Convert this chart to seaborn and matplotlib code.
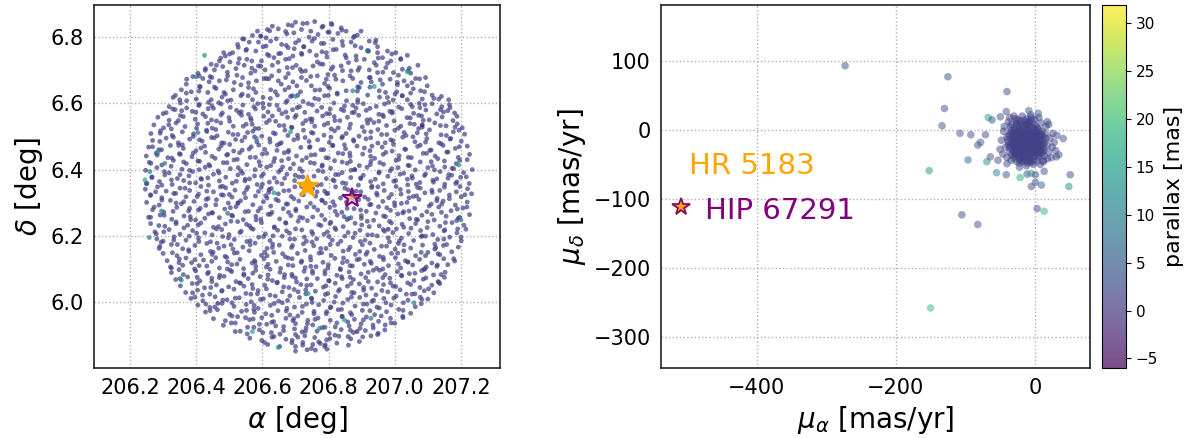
import matplotlib
matplotlib.use("Agg")
import matplotlib.pyplot as plt
import numpy as np
import pandas as pd
import seaborn as sns
from matplotlib.colors import Normalize
from matplotlib.cm import ScalarMappable

# ---------------- data ----------------
# Field stars: (RA offset, Dec offset) in milli-degrees from RA0 / DEC0
RA0 = 206.0
DEC0 = 5.8
field_top_west = [(700,1045),(722,1041),(678,1037),(630,1033),(615,1023),(648,1025),(670,1017),(695,1013),(585,1018),(570,1005),(595,1003),(540,995),(560,985),(525,978),(625,988),(642,995),(658,978),(678,968),(700,983),(725,971),(602,971),(580,958),(552,963),(510,953),(488,943),(502,925),(530,935),(615,948),(635,938),(655,951),(670,933),(692,943),(718,951),(470,928),(445,918),(428,905),(455,901),(480,911),(520,905),(545,915),(568,928),(588,913),(608,901),(630,915),(650,898),(675,908),(702,915),(730,898),(405,891),(390,881),(420,875),(442,881),(470,868),(495,883),(515,863),(540,878),(565,891),(582,868),(605,875),(628,883),(648,868),(670,878),(692,865),(718,878),(370,858),(355,841),(385,835),(410,851),(435,833),(460,845),(488,828),(512,841),(535,823),(558,848),(580,833),(602,818),(625,841),(645,825),(668,841),(690,823),(715,835),(330,818),(350,811),(400,813),(445,811),(495,808),(570,811),(675,808)]
field_top_east = [(758,1047),(783,1033),(808,1041),(838,1028),(746,1018),(768,1008),(798,1015),(828,1011),(853,1018),(878,1003),(898,1018),(923,988),(943,991),(750,988),(778,981),(813,993),(843,975),(868,985),(898,968),(918,958),(948,971),(978,958),(1003,953),(743,958),(763,945),(793,953),(823,963),(853,938),(883,943),(908,933),(938,923),(963,938),(988,928),(1018,935),(1038,945),(753,913),(783,918),(808,903),(838,913),(868,898),(893,908),(923,901),(948,893),(973,908),(996,893),(1023,903),(1048,891),(1070,915),(766,883),(793,873),(818,885),(843,868),(873,875),(898,863),(923,878),(963,858),(986,873),(1008,863),(1028,868),(1038,853),(1063,875),(1093,878),(1098,853),(748,853),(773,841),(798,851),(826,828),(853,838),(893,848),(918,825),(953,838),(978,818),(1006,835),(1023,823),(1048,831),(1078,838),(1113,825),(1133,813),(1163,811),(758,815),(788,823),(888,811),(1038,811),(1083,813)]
field_mid_west = [(318,790),(352,801),(371,786),(409,797),(447,793),(468,802),(503,788),(541,795),(586,799),(603,787),(644,794),(671,803),(712,790),
(309,772),(336,781),(388,776),(420,768),(436,784),(479,771),(522,779),(558,767),(579,783),(617,774),(659,769),(691,781),(728,773),
(284,758),(318,749),(352,763),(397,752),(428,760),(461,747),(499,757),(537,764),(566,750),(604,761),(640,746),(676,758),(702,764),(731,748),
(272,735),(301,726),(339,741),(366,730),(404,738),(448,725),(474,741),(512,731),(551,737),(589,724),(612,742),(651,733),(689,727),(722,739),
(263,709),(292,717),(327,703),(358,714),(392,708),(431,719),(463,702),(497,713),(526,706),(571,716),(598,701),(633,711),(668,719),(706,704),
(268,688),(309,695),(346,681),(380,692),(418,686),(446,697),(484,680),(519,691),(547,698),(583,684),(622,693),(657,681),(695,690),(729,697),
(256,668),(287,660),(322,673),(361,664),(399,657),(425,671),(468,662),(501,676),(539,659),(566,669),(607,661),(645,674),(679,658),(716,667),
(249,641),(279,650),(314,636),(352,646),(387,639),(428,652),(457,634),(492,644),(531,651),(563,637),(600,647),(637,634),(666,651),(703,641),(733,636),
(258,622),(296,614),(331,628),(370,618),(405,626),(441,611),(482,621),(514,629),(553,615),(590,624),(625,612),(658,627),(694,617),
(247,598),(281,606),(318,590),(357,601),(389,594),(427,607),(466,596),(503,603),(540,589),(578,600),(613,607),(649,593),(684,603),(720,595),
(266,576),(305,584),(343,573),(378,581),(416,571),(452,586),(489,577),(526,584),(561,572),(597,580),(636,575),(674,586),(710,578),
(251,558),(289,564),(327,555),(362,567),(398,560),(437,553),(470,566),(509,559),(547,566),(584,555),(621,562),(659,557),(697,567),(732,556)]
field_mid_east = [(751,795),(779,788),(816,801),(848,792),(883,786),(905,799),(944,791),(981,803),(1012,789),(1048,797),(1076,787),(1113,799),(1142,790),(1165,796),
(765,777),(803,769),(838,782),(871,772),(914,779),(952,767),(985,776),(1021,784),(1057,770),(1094,780),(1127,768),(1160,778),(1181,771),
(744,753),(782,762),(819,748),(857,758),(891,764),(926,751),(966,760),(998,747),(1037,757),(1072,764),(1104,750),(1143,759),(1176,748),(1188,761),
(758,731),(797,740),(829,726),(866,737),(902,729),(937,742),(975,733),(1011,725),(1046,739),(1083,728),(1121,741),(1155,732),(1189,738),(1204,726),
(748,712),(786,704),(818,717),(853,709),(892,701),(928,714),(960,706),(1000,719),(1034,703),(1068,711),(1105,720),(1140,705),(1177,714),(1211,707),
(767,690),(802,682),(840,696),(876,686),(913,693),(949,680),(988,690),(1024,698),(1061,684),(1097,694),(1133,681),(1167,692),(1201,686),
(742,667),(777,660),(813,673),(851,663),(886,671),(925,657),(962,668),(996,676),(1033,661),(1069,670),(1110,659),(1146,673),(1183,664),(1219,671),
(759,645),(792,636),(829,650),(865,640),(903,647),(939,634),(973,652),(1013,642),(1050,636),(1086,649),(1122,641),(1157,653),(1192,637),(1226,646),
(745,621),(781,614),(818,627),(856,619),(893,612),(928,625),(966,616),(1004,628),(1040,613),(1077,623),(1114,611),(1150,626),(1186,618),(1219,630),
(769,597),(806,604),(841,591),(879,600),(916,607),(953,593),(991,603),(1027,589),(1062,599),(1100,606),(1137,594),(1173,604),(1208,591),(1234,600),
(756,580),(793,573),(830,585),(867,576),(905,583),(941,571),(979,580),(1016,586),(1053,574),(1090,582),(1127,572),(1163,585),(1199,577),
(741,562),(778,555),(817,566),(852,558),(890,553),(927,564),(965,557),(1003,567),(1039,554),(1076,561),(1115,568),(1151,556),(1188,563),(1225,558)]
field_low_west = [(246,541),(283,548),(309,535),(351,544),(380,537),(414,549),(452,533),(489,545),(517,538),(556,547),(588,534),(627,543),(665,536),(698,548),(728,540),
(262,522),(296,515),(338,528),(369,518),(407,526),(436,513),(476,524),(508,517),(545,529),(579,520),(614,514),(648,527),(687,519),(719,525),
(250,501),(288,493),(322,507),(355,497),(393,504),(429,492),(461,509),(497,499),(534,506),(571,494),(603,503),(641,510),(676,496),(710,505),
(268,479),(302,472),(341,486),(377,475),(412,483),(448,470),(486,481),(520,488),(558,474),(594,484),(629,471),(663,482),(701,476),(734,487),
(256,456),(291,463),(326,450),(363,460),(398,448),(437,466),(470,455),(507,462),(542,449),(580,459),(617,465),(652,451),(686,461),(722,454),
(262,437),(305,429),(339,442),(374,432),(414,439),(452,426),(488,436),(525,443),(561,430),(597,440),(636,427),(671,438),(708,444),
(275,412),(318,419),(351,405),(389,416),(426,409),(461,421),(499,404),(536,414),(572,420),(609,406),(646,417),(682,408),(719,418),
(281,391),(300,384),(333,397),(369,387),(407,394),(443,382),(480,398),(515,389),(553,383),(589,396),(623,386),(660,399),(697,390),(733,384),
(290,368),(325,374),(359,361),(396,371),(432,377),(468,363),(505,373),(541,366),(578,378),(614,362),(651,372),(688,365),(724,376),
(300,347),(342,340),(378,353),(414,343),(451,351),(487,338),(524,349),(560,355),(597,341),(634,350),(669,337),(706,347),
(312,325),(349,330),(386,319),(422,327),(459,334),(495,321),(532,329),(569,318),(605,331),(642,323),(678,333),(717,320),
(322,306),(359,311),(395,300),(432,309),(470,303),(507,313),(543,301),(580,308),(617,314),(655,302),(692,310),(729,304)]
field_low_east = [(752,543),(788,535),(821,548),(859,539),(897,533),(930,546),(968,537),(1004,549),(1041,534),(1077,544),(1112,538),(1150,547),(1186,533),(1220,542),
(761,520),(797,528),(836,514),(871,524),(909,517),(945,529),(982,515),(1019,526),(1056,519),(1091,530),(1128,513),(1165,523),(1201,518),(1232,527),
(745,498),(781,506),(818,492),(854,502),(891,509),(928,495),(964,504),(1000,491),(1037,501),(1073,510),(1110,496),(1146,505),(1183,493),(1219,502),
(767,478),(804,486),(840,471),(877,482),(914,474),(951,488),(987,477),(1024,469),(1060,483),(1097,473),(1133,487),(1170,476),(1206,484),
(752,457),(789,449),(826,463),(862,453),(899,461),(936,447),(972,458),(1009,466),(1045,452),(1082,462),(1119,448),(1155,459),(1192,453),(1226,464),
(770,434),(807,441),(844,428),(880,438),(917,444),(953,430),(990,439),(1027,426),(1063,437),(1100,443),(1136,429),(1173,440),(1209,432),
(749,413),(786,405),(822,419),(859,410),(895,417),(932,403),(969,414),(1005,421),(1042,407),(1078,416),(1115,404),(1151,418),(1188,409),(1215,420),
(764,391),(801,398),(837,384),(874,395),(910,387),(947,400),(984,382),(1020,393),(1057,386),(1093,399),(1130,389),(1166,396),(1201,385),
(755,370),(792,362),(828,375),(865,366),(902,373),(938,359),(975,369),(1011,377),(1048,363),(1084,372),(1121,360),(1157,374),(1192,366),
(771,348),(808,341),(844,354),(881,344),(917,351),(954,338),(990,347),(1027,355),(1063,340),(1100,350),(1136,343),(1172,352),
(746,327),(783,320),(819,332),(856,323),(893,330),(929,317),(966,328),(1002,334),(1039,321),(1075,329),(1112,318),(1148,331),(1181,324),
(762,307),(799,313),(835,301),(872,309),(908,314),(945,302),(981,310),(1018,303),(1054,312),(1091,300),(1127,308),(1160,313)]
field_bottom_west = [(325,289),(361,283),(398,294),(434,286),(471,281),(507,292),(544,285),(580,296),(617,282),(653,290),(689,284),(726,293),
(338,268),(374,276),(411,264),(447,272),(484,278),(520,262),(557,271),(593,277),(630,265),(666,274),(703,261),(734,270),
(352,249),(388,256),(425,243),(461,252),(498,246),(534,257),(571,241),(607,251),(644,258),(680,244),(716,253),
(368,229),(404,236),(441,224),(477,233),(514,239),(550,226),(587,235),(623,221),(660,231),(696,238),(731,225),
(384,211),(420,204),(457,216),(493,207),(530,213),(566,201),(603,210),(639,218),(676,205),(712,214),
(405,191),(441,184),(478,196),(514,187),(551,193),(587,181),(624,190),(660,198),(697,185),(733,194),
(428,170),(464,177),(501,163),(537,172),(574,178),(610,165),(647,174),(683,161),(720,169),
(452,150),(488,144),(525,156),(561,147),(598,153),(634,141),(671,151),(707,158),(737,145),
(482,130),(518,137),(555,124),(591,133),(628,139),(664,126),(700,135),(732,122),
(518,111),(554,104),(591,116),(627,108),(664,114),(700,102),(730,112),
(562,91),(598,84),(635,96),(671,88),(707,94),(616,72),(652,66),(689,77),(722,70),(700,52),(735,56)]
field_bottom_east = [(752,287),(789,294),(825,281),(862,291),(898,285),(935,296),(971,283),(1008,292),(1044,286),(1081,295),(1117,282),(1152,290),
(766,271),(802,264),(839,277),(875,268),(912,274),(948,261),(985,272),(1021,279),(1058,265),(1094,273),(1131,262),(1150,275),
(747,252),(784,245),(820,257),(857,248),(893,255),(930,242),(966,253),(1003,247),(1039,258),(1076,244),(1112,251),(1136,256),
(760,233),(797,226),(833,238),(870,229),(906,236),(943,222),(979,231),(1016,237),(1052,224),(1089,234),(1118,228),
(748,212),(785,205),(821,217),(858,208),(894,214),(931,202),(967,211),(1004,218),(1040,206),(1077,215),(1100,209),
(770,192),(807,185),(843,197),(880,188),(916,194),(953,182),(989,191),(1026,198),(1062,186),(1080,195),
(756,172),(793,165),(829,177),(866,168),(902,175),(939,162),(975,171),(1012,178),(1048,166),
(768,152),(805,145),(841,157),(878,148),(914,155),(951,142),(987,151),(1024,157),
(752,131),(789,124),(825,137),(862,128),(898,134),(935,122),(971,131),(1000,136),
(765,112),(802,105),(838,117),(875,108),(911,114),(948,102),(970,116),
(758,93),(794,86),(831,97),(867,89),(903,95),(928,98),(752,72),(788,66),(825,76),(860,70),(760,55),(795,58)]
field_faint_south = [(700,66),(748,60),(790,71),(722,78),(770,80),
(606,78),(629,94),(690,85),(728,98),(775,75),(804,90),(859,96),(893,81),
(533,112),(574,124),(601,108),(653,103),(697,119),(720,110),(781,123),(819,100),(866,115),(895,121),(950,106),
(506,137),(572,149),(613,133),(640,128),(692,144),(736,135),(759,148),(820,125),(858,140),(905,146),(934,131),(989,137),
(442,174),(508,158),(549,153),(576,169),(628,160),(672,173),(695,150),(756,165),(794,171),(841,156),(870,162),(925,174),(959,158),(1025,153),
(429,194),(456,185),(508,198),(552,175),(575,190),(636,196),(674,181),(721,187),(750,199),(805,183),(839,178),(905,194),(946,185),(973,198),(1025,175),
(396,215),(419,221),(480,206),(518,212),(565,224),(594,208),(649,203),(683,219),(749,210),(790,223),(817,200),(869,215),(913,221),(936,206),(997,212),(1035,224),(1082,208),
(389,228),(444,244),(478,235),(544,248),(585,225),(612,240),(664,246),(708,231),(731,237),(792,249),(830,233),(877,228),(906,244),(961,235),(995,248),(1061,225),(1102,240),
(351,271),(403,256),(447,262),(470,274),(531,258),(569,253),(616,269),(645,260),(700,273),(734,250),(800,265),(841,271),(868,256),(920,262),(964,274),(987,258),(1048,253),(1086,269),(1133,260),
(348,298),(403,275),(437,290),(503,296),(544,281),(571,287),(623,299),(667,283),(690,278),(751,294),(789,285),(836,298),(865,275),(920,290),(954,296),(1020,281),(1061,287),(1088,299),(1140,283)]
field_faint_centre_south = [(325,303),(348,319),(409,310),(447,323),(494,300),(523,315),(578,321),(612,306),(678,312),(719,324),(746,308),(798,303),(842,319),(865,310),(926,323),(964,300),(1011,315),(1040,321),(1095,306),(1129,312),
(328,349),(369,333),(396,328),(448,344),(492,335),(515,348),(576,325),(614,340),(661,346),(690,331),(745,337),(779,349),(845,333),(886,328),(913,344),(965,335),(1009,348),(1032,325),(1093,340),(1131,346),(1178,331),
(288,362),(343,374),(377,358),(443,353),(484,369),(511,360),(563,373),(607,350),(630,365),(691,371),(729,356),(776,362),(805,374),(860,358),(894,353),(960,369),(1001,360),(1028,373),(1080,350),(1124,365),(1147,371),
(294,381),(332,387),(379,399),(408,383),(463,378),(497,394),(563,385),(604,398),(631,375),(683,390),(727,396),(750,381),(811,387),(849,399),(896,383),(925,378),(980,394),(1014,385),(1080,398),(1121,375),(1148,390),(1200,396),
(279,406),(302,412),(363,424),(401,408),(448,403),(477,419),(532,410),(566,423),(632,400),(673,415),(700,421),(752,406),(796,412),(819,424),(880,408),(918,403),(965,419),(994,410),(1049,423),(1083,400),(1149,415),(1190,421),
(287,431),(339,437),(383,449),(406,433),(467,428),(505,444),(552,435),(581,448),(636,425),(670,440),(736,446),(777,431),(804,437),(856,449),(900,433),(923,428),(984,444),(1022,435),(1069,448),(1098,425),(1153,440),(1187,446),
(262,456),(303,462),(330,474),(382,458),(426,453),(449,469),(510,460),(548,473),(595,450),(624,465),(679,471),(713,456),(779,462),(820,474),(847,458),(899,453),(943,469),(966,460),(1027,473),(1065,450),(1112,465),(1141,471),(1196,456),
(273,487),(339,499),(380,483),(407,478),(459,494),(503,485),(526,498),(587,475),(625,490),(672,496),(701,481),(756,487),(790,499),(856,483),(897,478),(924,494),(976,485),(1020,498),(1043,475),(1104,490),(1142,496),(1189,481),(1218,487),
(262,524),(296,508),(362,503),(403,519),(430,510),(482,523),(526,500),(549,515),(610,521),(648,506),(695,512),(724,524),(779,508),(813,503),(879,519),(920,510),(947,523),(999,500),(1043,515),(1066,521),(1127,506),(1165,512),(1212,524),
(277,533),(332,528),(366,544),(432,535),(473,548),(500,525),(552,540),(596,546),(619,531),(680,537),(718,549),(765,533),(794,528),(849,544),(883,535),(949,548),(990,525),(1017,540),(1069,546),(1113,531),(1136,537),(1197,549)]
field_faint_centre_north = [(249,558),(296,553),(325,569),(380,560),(414,573),(480,550),(521,565),(548,571),(600,556),(644,562),(667,574),(728,558),(766,553),(813,569),(842,560),(897,573),(931,550),(997,565),(1038,571),(1065,556),(1117,562),(1161,574),(1184,558),
(266,578),(304,594),(351,585),(380,598),(435,575),(469,590),(535,596),(576,581),(603,587),(655,599),(699,583),(722,578),(783,594),(821,585),(868,598),(897,575),(952,590),(986,596),(1052,581),(1093,587),(1120,599),(1172,583),(1216,578),
(263,619),(324,610),(362,623),(409,600),(438,615),(493,621),(527,606),(593,612),(634,624),(661,608),(713,603),(757,619),(780,610),(841,623),(879,600),(926,615),(955,621),(1010,606),(1044,612),(1110,624),(1151,608),(1178,603),
(282,644),(326,635),(349,648),(410,625),(448,640),(495,646),(524,631),(579,637),(613,649),(679,633),(720,628),(747,644),(799,635),(843,648),(866,625),(927,640),(965,646),(1012,631),(1041,637),(1096,649),(1130,633),(1196,628),
(268,669),(295,660),(347,673),(391,650),(414,665),(475,671),(513,656),(560,662),(589,674),(644,658),(678,653),(744,669),(785,660),(812,673),(864,650),(908,665),(931,671),(992,656),(1030,662),(1077,674),(1106,658),(1161,653),(1195,669),
(290,685),(331,698),(358,675),(410,690),(454,696),(477,681),(538,687),(576,699),(623,683),(652,678),(707,694),(741,685),(807,698),(848,675),(875,690),(927,696),(971,681),(994,687),(1055,699),(1093,683),(1140,678),(1169,694),
(291,710),(325,723),(391,700),(432,715),(459,721),(511,706),(555,712),(578,724),(639,708),(677,703),(724,719),(753,710),(808,723),(842,700),(908,715),(949,721),(976,706),(1028,712),(1072,724),(1095,708),(1156,703),(1194,719),
(317,735),(346,748),(401,725),(435,740),(501,746),(542,731),(569,737),(621,749),(665,733),(688,728),(749,744),(787,735),(834,748),(863,725),(918,740),(952,746),(1018,731),(1059,737),(1086,749),(1138,733),(1182,728),
(300,769),(361,760),(399,773),(446,750),(475,765),(530,771),(564,756),(630,762),(671,774),(698,758),(750,753),(794,769),(817,760),(878,773),(916,750),(963,765),(992,771),(1047,756),(1081,762),(1147,774),
(329,783),(356,778),(408,794),(452,785),(475,798),(536,775),(574,790),(621,796),(650,781),(705,787),(739,799),(805,783),(846,778),(873,794),(925,785),(969,798),(992,775),(1053,790),(1091,796),(1138,781),(1167,787)]
field_faint_north = [(337,824),(371,808),(437,803),(478,819),(505,810),(557,823),(601,800),(624,815),(685,821),(723,806),(770,812),(799,824),(854,808),(888,803),(954,819),(995,810),(1022,823),(1074,800),(1118,815),(1141,821),
(370,831),(408,837),(455,849),(484,833),(539,828),(573,844),(639,835),(680,848),(707,825),(759,840),(803,846),(826,831),(887,837),(925,849),(972,833),(1001,828),(1056,844),(1090,835),
(371,873),(412,850),(439,865),(491,871),(535,856),(558,862),(619,874),(657,858),(704,853),(733,869),(788,860),(822,873),(888,850),(929,865),(956,871),(1008,856),(1052,862),(1075,874),
(409,883),(447,878),(494,894),(523,885),(578,898),(612,875),(678,890),(719,896),(746,881),(798,887),(842,899),(865,883),(926,878),(964,894),(1011,885),(1040,898),
(427,900),(461,915),(527,921),(568,906),(595,912),(647,924),(691,908),(714,903),(775,919),(813,910),(860,923),(889,900),(944,915),(978,921),(1044,906),
(474,937),(501,949),(553,933),(597,928),(620,944),(681,935),(719,948),(766,925),(795,940),(850,946),(884,931),(950,937),(991,949),(1018,933),
(483,953),(527,969),(550,960),(611,973),(649,950),(696,965),(725,971),(780,956),(814,962),(880,974),(921,958),(948,953),
(544,994),(588,985),(611,998),(672,975),(710,990),(757,996),(786,981),(841,987),(875,999),(941,983),
(595,1003),(622,1019),(674,1010),(718,1023),(741,1000),(802,1015),(840,1021),(887,1006),
(690,1035),(735,1042),(780,1030),(810,1038)]
field_parallax = 1.5   # typical parallax of the field stars [mas]

# Field stars with distinct parallax: (RA offset, Dec offset, parallax)
field_special = [(425,945,14),(400,880,10),(700,821,13),(918,960,9),(1038,895,17),(938,851,15),(873,838,12),
(405,712,8),(582,694,11),(685,714,15),(285,654,13),(305,619,10),(260,594,12),(245,569,16),(1193,614,14),
(635,530,14),(295,475,12),(258,395,10),(495,468,8),(1200,448,11),(868,455,9),(355,266,12),(570,111,17),
(648,63,13),(738,226,14),(1058,198,11),(848,146,13),(773,121,10),(928,151,9),
(465,196,-3),(886,111,-4),(1083,735,-6.0),(620,540,-2),(980,420,-3),
(870,515,31.9)]

# Proper motions [mas/yr] of the bulk of the field (parallax ~ pm_core_parallax)
pm_core = [(-14,-12),(-8,-5),(-20,-18),(-3,-15),(-25,-8),(-10,-25),(-18,2),(0,-3),(-30,-15),(-6,-30),(-22,-28),(5,-20),(-12,8),(-28,0),(2,5),(-16,-35),(8,-8),(-35,-5),(-2,-38),(-26,-22),(10,-28),(-9,12),(-32,-28),(4,-35),(-20,10),(12,-15),(-38,-18),(-15,-42),(6,0),(-24,15),(15,-5),(-5,18),(-34,8),(-11,-48),(14,-38),(-29,-38),(18,-22),(-40,-10),(0,15),(-19,-45),(9,10),(-36,-32),(-4,-22),(-13,-20),(-21,-5),(-7,-10),(-17,-28),(-1,-26),(-27,-12),(3,-10),(-11,0),(-24,-34),(7,-25),(-31,-22),(-8,-36),(-16,-8),(-3,3),(-23,4),(1,-18),(-14,-30),(-9,-18),(-19,-15),(-6,-2),(-26,-4),(-12,-38),(4,-30),(-29,-9),(11,-20),(-18,-24),(-2,-8),(-33,-14),(-7,6),(-21,-38),(8,-14),(-15,14),(-10,-14),(-25,-16),(-4,-31),(-13,-5),(0,-22),(-30,3),(-17,-20),(-5,-25),(-22,-10),(6,-6),(-27,-30),(-11,-28),(2,-33),(-35,-22),(-8,-44),(13,-30),(-20,-32),(-1,8),(-24,-20),(-16,6),(-6,-16),(10,-2),(-28,-26),(-12,-16),(5,-40),(-32,-4),(-9,-6),(-19,-2),(3,-26),(-23,-14),(-14,-22),(-3,-12),(-18,-10),(-10,-33),(1,-14),(-26,6),(-7,-40),(-15,-16),(-21,-24),(7,-18),(-12,4),(-30,-20),(-4,-4),(-17,-38),(9,-34),(-25,-36),(-8,-22),(-20,-6),(-2,-44),(-13,-10),(4,2),(-33,-36),(-11,16),(12,-10),(-27,12),
(-45,-2),(-42,-25),(-38,12),(-46,-35),(20,-32),(22,-12),(16,5),(25,-25),(-30,20),(-18,20),(-6,22),(6,18),(18,-42),(-40,-40),(-22,-48),(-2,-50),(12,-45),(28,-18),(-48,-15),(-36,18),(24,-40),(-44,5),(20,8),(-26,-46),(8,-50),(26,-5),(-50,-28),(-12,-52),(-34,-44),(30,-30),
(-16,-13),(-11,-19),(-22,-1),(-5,-8),(-27,-18),(-8,-28),(-19,-31),(-2,-19),(-31,-11),(-13,-2),(-24,-25),(1,-29),(-9,-41),(-17,-46),(-28,-33),(5,-13),(-34,-1),(-20,13),(-7,10),(3,-3),(-36,-26),(9,-22),(-14,-35),(-26,9),(-4,-47),(11,-33),(-30,-41),(-39,-14),(14,-19),(-12,11),(-23,-40),(7,-38),(-1,-33),(-18,-7),(-10,-22),(-25,-13),(-6,-20),(-15,-26),(-29,-5),(-3,-28),(-21,-20),(-9,-1),(-33,-19),(0,-9),(-16,-39),(6,-28),(-27,-35),(-12,-45),(-37,-8),(10,-7),(-20,-27),(-8,-15),(-24,-2),(-2,-39),(-14,-8),(-31,-31),(4,-45),(-19,6),(-5,14),(-28,16),(13,-25),(-38,-22),(-11,-31),(-17,-17),(-23,-9),(-6,-35),(-26,-28),(2,-16),(-13,-25),(-32,-10),(8,-31),(-22,-43),(-4,-12),(-10,7),(-35,4),(16,-12),(-18,-36),(-1,1),(-29,-23),(-7,-46)]
pm_core_parallax = 1.5

# Proper-motion outliers: (pmra, pmdec, parallax)
pm_outliers = [(-273,93,3),(-125,77,3),(-40,55.5,3),(-130,31,3),(-133.5,6,3),(-107.6,-5,3),(-92,-7,3),(-67,18,16),(-61.5,14.5,3),(-71,-7,3),(-78,-18,4),(-82,-22,4),(-96,-43.5,7),(-152,-59,14),(-69,-46,13),(-64,-39,3),(-53,-44,3),(-55,-62,10),(-41,-65,3),(-40,-49,3),(-21,-69,17),(-22,-54,3),(-11,-64,3),(-5,-63,14),(1,-65,3),(-5,-82,3),(1,-76,3),(9.6,-80,6),(13.5,-60,3),(12.5,-46,3),(34.6,-36,4),(31,-39,3),(41,-12.6,3),(32,-8,4),(18,12,4),(5,24,5),(-8.6,28,6),(-41,26.6,3),(-49.5,19,3),(51,-65,3),(49,-82,12),(3.4,-114,3),(13.5,-118,19),(-105,-123,3),(-82,-137,3),(-150,-258,19),(-513,-110,31.9)]

# Highlighted stars
hr5183_pos = (206.735, 6.350)
hip67291_pos = (206.870, 6.315)
pair_pm = (-509, -111)
label_hr = "HR 5183"
label_hip = "HIP 67291"
label_hr_pos = (-497, -53)
label_hip_pos = (-475, -117)

# ---------------- build tables ----------------
regions = [field_top_west, field_top_east, field_mid_west, field_mid_east,
           field_low_west, field_low_east, field_bottom_west, field_bottom_east,
           field_faint_south, field_faint_centre_south, field_faint_centre_north,
           field_faint_north]
rows = []
for reg in regions:
    for a, d in reg:
        rows.append((RA0 + a / 1000.0, DEC0 + d / 1000.0, field_parallax))
for a, d, p in field_special:
    rows.append((RA0 + a / 1000.0, DEC0 + d / 1000.0, p))
pos_df = pd.DataFrame(rows, columns=["ra", "dec", "parallax"])

pm_rows = [(x, y, pm_core_parallax) for x, y in pm_core] + list(pm_outliers)
pm_df = pd.DataFrame(pm_rows, columns=["pmra", "pmdec", "parallax"])

vmin = min(pos_df.parallax.min(), pm_df.parallax.min())
vmax = max(pos_df.parallax.max(), pm_df.parallax.max())
norm = Normalize(vmin=vmin, vmax=vmax)

# ---------------- figure ----------------
sns.set_style("white")
plt.rcParams["font.family"] = ["DejaVu Sans"]
plt.rcParams["mathtext.fontset"] = "dejavusans"
plt.rcParams.update({"text.color": "black", "axes.labelcolor": "black",
                     "xtick.color": "black", "ytick.color": "black",
                     "axes.edgecolor": "black"})

W, H = 1197, 438
fig = plt.figure(figsize=(W / 100, H / 100), dpi=100)
ax1 = fig.add_axes([94 / W, (H - 368) / H, 406 / W, 363 / H])
ax2 = fig.add_axes([661 / W, (H - 368) / H, 429 / W, 363 / H])
cax = fig.add_axes([1102 / W, (H - 368) / H, 24 / W, 363 / H])

for ax in (ax1, ax2):
    ax.set_axisbelow(True)
    ax.grid(True, ls=":", color="#b0b0b0", lw=1.0)
    for sp in ax.spines.values():
        sp.set_color("#222222")
        sp.set_linewidth(1.2)
    ax.tick_params(labelsize=15, length=4, width=1, direction="out")

sns.scatterplot(data=pos_df, x="ra", y="dec", hue="parallax", palette="viridis",
                hue_norm=norm, s=12, alpha=0.72, linewidth=0, legend=False, ax=ax1)
ax1.plot(*hr5183_pos, marker="*", ms=17, color="orange", mec="orange", ls="none", zorder=5)
ax1.plot(*hip67291_pos, marker="*", ms=15, mfc=(0.5, 0.0, 0.5, 0.25), mec="purple",
         mew=1.5, ls="none", zorder=5)
ax1.set_xlim(206.091, 207.318)
ax1.set_ylim(5.801, 6.897)
ax1.set_xticks([206.2, 206.4, 206.6, 206.8, 207.0, 207.2])
ax1.set_yticks([6.0, 6.2, 6.4, 6.6, 6.8])
ax1.set_xlabel(r"$\alpha$ [deg]", fontsize=20)
ax1.set_ylabel(r"$\delta$ [deg]", fontsize=20)

sns.scatterplot(data=pm_df, x="pmra", y="pmdec", hue="parallax", palette="viridis",
                hue_norm=norm, s=30, alpha=0.5, linewidth=0, legend=False, ax=ax2)
ax2.plot(*pair_pm, marker="*", ms=13, color="orange", mec="orange", ls="none", zorder=5)
ax2.plot(*pair_pm, marker="*", ms=13, mfc="none", mec="purple", mew=1.2, ls="none", zorder=6)
ax2.text(label_hr_pos[0], label_hr_pos[1], label_hr, color="orange", fontsize=21,
         ha="left", va="center")
ax2.text(label_hip_pos[0], label_hip_pos[1], label_hip, color="purple", fontsize=21,
         ha="left", va="center")
ax2.set_xlim(-538, 79.5)
ax2.set_ylim(-345, 181)
ax2.set_xticks([-400, -200, 0])
ax2.set_yticks([-300, -200, -100, 0, 100])
ax2.set_xlabel(r"$\mu_\alpha$ [mas/yr]", fontsize=20)
ax2.set_ylabel(r"$\mu_\delta$ [mas/yr]", fontsize=20)

sm = ScalarMappable(norm=norm, cmap="viridis")
cb = fig.colorbar(sm, cax=cax, alpha=0.7)
cb.set_ticks([-5, 0, 5, 10, 15, 20, 25, 30])
cb.ax.tick_params(labelsize=11)
cb.set_label("parallax [mas]", fontsize=16)

fig.savefig("out.png", dpi=100)
